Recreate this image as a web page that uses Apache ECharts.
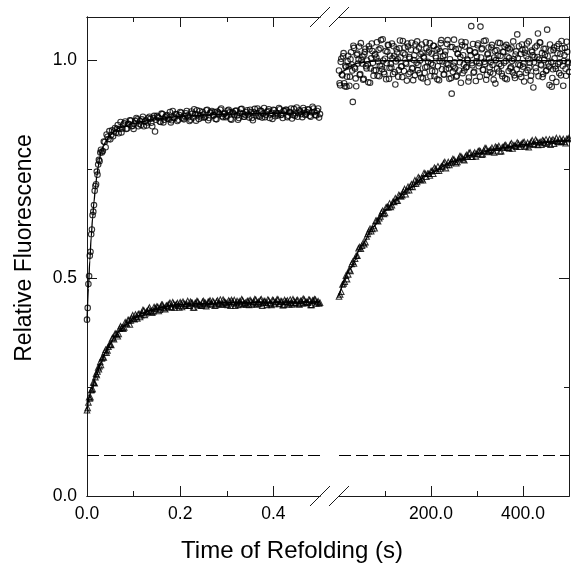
<!DOCTYPE html>
<html><head><meta charset="utf-8">
<script src="https://cdn.jsdelivr.net/npm/echarts@6/dist/echarts.min.js"></script>
<style>html,body{margin:0;padding:0;background:#fff}#c{width:571px;height:565px}</style>
</head><body><div id="c"></div>
<script>
const FONT = '"Liberation Sans", Arial, Helvetica, sans-serif';

// ---- Left panel: fast phase (time in s) ----
const leftTime = [
0,0.0015,0.003,0.0045,0.006,0.0075,0.009,0.0105,0.012,0.0135,0.015,0.0165,0.018,0.0195,0.021,0.0225,0.024,0.0255,0.027,0.0285,
0.030,0.034,0.038,0.042,0.046,0.050,0.054,0.058,0.062,0.066,0.070,0.074,0.078,0.082,0.086,0.090,0.094,0.098,
0.102,0.106,0.110,0.114,0.118,0.122,0.126,0.130,0.134,0.138,0.142,0.146,0.150,
0.154,0.158,0.162,0.166,0.170,0.174,0.178,0.182,0.186,0.190,0.194,0.198,
0.202,0.206,0.210,0.214,0.218,0.222,0.226,0.230,0.234,0.238,0.242,0.246,0.250,0.254,0.258,0.262,0.266,0.270,0.274,0.278,0.282,0.286,0.290,0.294,0.298,
0.302,0.306,0.310,0.314,0.318,0.322,0.326,0.330,0.334,0.338,0.342,0.346,0.350,0.354,0.358,0.362,0.366,0.370,0.374,0.378,0.382,0.386,0.390,0.394,0.398,
0.402,0.406,0.410,0.414,0.418,0.422,0.426,0.430,0.434,0.438,0.442,0.446,0.450,0.454,0.458,0.462,0.466,0.470,0.474,0.478,0.482,0.486,0.490,0.494,0.498];
const leftCircles = [
.405,.432,.487,.505,.552,.561,.601,.612,.645,.653,.668,.701,.712,.716,.745,.738,.761,.772,.769,.789,
.795,.792,.813,.830,.820,.819,.840,.837,.834,.852,.843,.835,.853,.860,.844,.854,.862,.850,
.855,.868,.849,.861,.865,.849,.862,.858,.871,.857,.868,.837,.873,
.868,.859,.877,.864,.873,.867,.882,.863,.870,.877,.861,.875,
.880,.867,.872,.884,.870,.864,.878,.888,.862,.876,.884,.869,.876,.871,.887,.868,.881,.874,.882,.865,.880,.887,.872,.877,.870,
.885,.881,.864,.879,.884,.874,.868,.888,.878,.871,.882,.876,.887,.868,.881,.874,.890,.871,.884,.878,.870,.882,.888,.876,.866,
.886,.880,.874,.888,.876,.884,.887,.870,.881,.890,.875,.873,.892,.879,.883,.870,.886,.877,.888,.873,.881,.890,.875,.884,.869];
const leftTriangles = [
.197,.202,.215,.227,.224,.227,.243,.244,.246,.261,.260,.259,.273,.281,.278,.286,.295,.291,.298,.308,
.301,.319,.330,.329,.343,.348,.362,.360,.373,.367,.384,.386,.384,.399,.395,.404,.403,.415,
.406,.412,.418,.411,.421,.426,.420,.423,.433,.425,.424,.432,.435,
.425,.434,.439,.431,.437,.434,.444,.433,.441,.438,.443,.433,
.442,.446,.437,.441,.437,.446,.443,.433,.443,.446,.440,.437,.448,.443,.440,.446,.442,.448,.437,.446,.442,.451,.440,.447,.444,
.439,.446,.450,.443,.437,.448,.445,.441,.449,.442,.440,.447,.450,.440,.446,.451,.443,.441,.452,.444,.447,.439,.449,.443,.450,
.441,.446,.451,.442,.447,.439,.446,.449,.440,.444,.452,.443,.449,.441,.448,.443,.451,.446,.444,.450,.439,.448,.451,.445,.442];
// interleaved second set of readings in the left panel
const leftTime2 = [
0.032,0.036,0.040,0.044,0.048,0.052,0.056,0.060,0.064,0.068,0.072,0.076,0.080,0.084,0.088,0.092,0.096,
0.100,0.104,0.108,0.112,0.116,0.120,0.124,0.128,0.132,0.136,0.140,0.144,0.148,
0.152,0.156,0.160,0.164,0.168,0.172,0.176,0.180,0.184,0.188,0.192,0.196,
0.200,0.204,0.208,0.212,0.216,0.220,0.224,0.228,0.232,0.236,0.240,0.244,0.248,0.252,0.256,0.260,0.264,0.268,0.272,0.276,0.280,0.284,0.288,0.292,0.296,
0.300,0.304,0.308,0.312,0.316,0.320,0.324,0.328,0.332,0.336,0.340,0.344,0.348,0.352,0.356,0.360,0.364,0.368,0.372,0.376,0.380,0.384,0.388,0.392,0.396,
0.400,0.404,0.408,0.412,0.416,0.420,0.424,0.428,0.432,0.436,0.440,0.444,0.448,0.452,0.456,0.460,0.464,0.468,0.472,0.476,0.480,0.484,0.488,0.492,0.496,0.500];
const leftCircles2 = [
.789,.814,.801,.825,.838,.829,.826,.845,.843,.833,.859,.844,.856,.843,.855,.863,.849,
.843,.861,.865,.855,.852,.871,.860,.851,.868,.866,.849,.873,.864,
.870,.860,.878,.858,.870,.875,.865,.858,.884,.868,.876,.864,
.882,.869,.865,.879,.874,.861,.883,.869,.877,.886,.866,.874,.882,.869,.886,.863,.880,.884,.874,.866,.883,.877,.890,.870,.879,
.873,.887,.866,.882,.876,.885,.864,.880,.889,.871,.875,.886,.869,.882,.863,.889,.879,.873,.885,.869,.891,.875,.884,.868,.880,.887,
.872,.878,.891,.875,.868,.884,.887,.873,.882,.867,.889,.879,.871,.886,.877,.891,.875,.881,.887,.871,.894,.882,.874,.890,.877];
const leftTriangles2 = [
.316,.318,.336,.334,.348,.347,.364,.372,.371,.372,.390,.387,.387,.397,.404,.394,.409,
.407,.417,.408,.418,.415,.427,.416,.424,.429,.424,.421,.434,.430,
.434,.428,.439,.433,.429,.438,.441,.434,.445,.433,.440,.437,
.445,.434,.442,.440,.448,.437,.444,.433,.443,.448,.440,.437,.446,.443,.436,.446,.449,.440,.445,.438,.449,.443,.440,.451,.445,
.441,.449,.437,.446,.450,.443,.439,.447,.452,.440,.444,.448,.439,.447,.443,.452,.440,.446,.450,.437,.448,.444,.451,.442,.439,.449,
.445,.452,.441,.447,.438,.450,.446,.443,.451,.440,.448,.444,.450,.440,.448,.453,.443,.445,.451,.439,.449,.452,.442,.447,.444];
const leftCircleFitT = [0,.003,.006,.009,.012,.015,.018,.021,.024,.027,.03,.035,.04,.05,.06,.07,.08,.1,.12,.15,.2,.25,.3,.4,.5];
const leftCircleFit  = [.40,.476,.54,.594,.638,.676,.707,.734,.756,.775,.79,.803,.814,.829,.839,.845,.849,.856,.86,.866,.872,.875,.877,.879,.88];
const leftTriFitT = [0,.01,.02,.03,.04,.05,.06,.07,.08,.1,.12,.14,.16,.2,.25,.3,.4,.5];
const leftTriFit  = [.2,.242,.278,.306,.331,.35,.367,.38,.391,.408,.42,.428,.434,.44,.442,.444,.445,.446];

// ---- Right panel: slow phase (time in s) ----
const rightCircleTime = [
0,2.5,5,7.5,10,12.5,15,17.5,20,22.5,25,27.5,30,32.5,35,37.5,40,42.5,45,47.5,
50,52.5,55,57.5,60,62.5,65,67.5,70,72.5,75,77.5,80,82.5,85,87.5,90,92.5,95,97.5,
100,102.5,105,107.5,110,112.5,115,117.5,120,122.5,125,127.5,130,132.5,135,137.5,140,142.5,145,147.5,
150,152.5,155,157.5,160,162.5,165,167.5,170,172.5,175,177.5,180,182.5,185,187.5,190,192.5,195,197.5,
200,202.5,205,207.5,210,212.5,215,217.5,220,222.5,225,227.5,230,232.5,235,237.5,240,242.5,245,247.5,
250,252.5,255,257.5,260,262.5,265,267.5,270,272.5,275,277.5,280,282.5,285,287.5,290,292.5,295,297.5,
300,302.5,305,307.5,310,312.5,315,317.5,320,322.5,325,327.5,330,332.5,335,337.5,340,342.5,345,347.5,
350,352.5,355,357.5,360,362.5,365,367.5,370,372.5,375,377.5,380,382.5,385,387.5,390,392.5,395,397.5,
400,402.5,405,407.5,410,412.5,415,417.5,420,422.5,425,427.5,430,432.5,435,437.5,440,442.5,445,447.5,
450,452.5,455,457.5,460,462.5,465,467.5,470,472.5,475,477.5,480,482.5,485,487.5,490,492.5,495,497.5,
500];
const rightCircles = [
.977,.943,1.004,.966,1.017,.941,.985,.963,1.011,.942,1.003,.991,.905,1.029,.981,.941,1.016,1.003,.967,1.040,
.993,.956,1.014,1.027,.982,.991,1.033,.949,1.005,1.022,.965,1.012,.978,1.042,.998,.964,1.028,.987,1.049,.973,
1.004,.957,1.020,1.035,.983,.992,1.039,.969,1.011,.945,1.026,1.003,.978,1.046,.986,.962,1.017,1.030,.995,.954,
1.032,1.008,.973,1.041,.981,1.001,.966,1.023,1.044,.990,.971,1.015,1.037,.959,1.006,.984,1.028,.950,1.019,1.040,
.993,.976,1.034,.964,1.010,1.025,.987,.955,1.021,1.047,.998,.968,1.013,.980,1.038,.991,.958,1.031,.924,.974,
1.048,.982,.963,1.016,1.027,.996,.949,1.035,1.012,.977,1.042,.985,1.000,.961,1.022,1.079,.989,.972,1.018,.953,
1.009,1.039,.994,1.078,1.026,.979,1.045,.992,.956,1.014,1.030,.984,.997,1.036,.970,1.007,.947,1.024,1.011,.975,
1.040,.988,.964,1.019,1.032,.999,.957,1.029,1.006,.982,1.030,.973,1.003,.960,1.021,1.060,.991,.969,1.015,1.037,
.986,.952,1.025,1.010,.978,1.044,.995,.965,1.020,.938,1.008,.983,1.034,1.062,1.002,1.041,.989,.962,1.027,1.013,
.976,1.071,.993,.944,1.023,.940,.980,1.030,.987,.951,1.017,1.038,.996,.966,1.028,.942,1.012,.981,1.043,.997,
.974];
// interleaved second set of readings in the right panel
const rightCircleTime2 = [
1.25,3.75,6.25,8.75,11.25,13.75,16.25,18.75,21.25,23.75,26.25,28.75,31.25,33.75,36.25,38.75,41.25,43.75,46.25,48.75,
51.25,53.75,56.25,58.75,61.25,63.75,66.25,68.75,71.25,73.75,76.25,78.75,81.25,83.75,86.25,88.75,91.25,93.75,96.25,98.75,
101.25,103.75,106.25,108.75,111.25,113.75,116.25,118.75,121.25,123.75,126.25,128.75,131.25,133.75,136.25,138.75,141.25,143.75,146.25,148.75,
151.25,153.75,156.25,158.75,161.25,163.75,166.25,168.75,171.25,173.75,176.25,178.75,181.25,183.75,186.25,188.75,191.25,193.75,196.25,198.75,
201.25,203.75,206.25,208.75,211.25,213.75,216.25,218.75,221.25,223.75,226.25,228.75,231.25,233.75,236.25,238.75,241.25,243.75,246.25,248.75,
251.25,253.75,256.25,258.75,261.25,263.75,266.25,268.75,271.25,273.75,276.25,278.75,281.25,283.75,286.25,288.75,291.25,293.75,296.25,298.75,
301.25,303.75,306.25,308.75,311.25,313.75,316.25,318.75,321.25,323.75,326.25,328.75,331.25,333.75,336.25,338.75,341.25,343.75,346.25,348.75,
351.25,353.75,356.25,358.75,361.25,363.75,366.25,368.75,371.25,373.75,376.25,378.75,381.25,383.75,386.25,388.75,391.25,393.75,396.25,398.75,
401.25,403.75,406.25,408.75,411.25,413.75,416.25,418.75,421.25,423.75,426.25,428.75,431.25,433.75,436.25,438.75,441.25,443.75,446.25,448.75,
451.25,453.75,456.25,458.75,461.25,463.75,466.25,468.75,471.25,473.75,476.25,478.75,481.25,483.75,486.25,488.75,491.25,493.75,496.25,498.75];
const rightCircles2 = [
.948,.997,.968,1.010,.948,.988,.940,.998,.987,.963,1.019,.977,1.034,.984,.959,1.013,.993,1.032,.969,1.001,
1.009,.958,1.020,.987,1.000,.950,1.026,.982,1.039,.995,.977,1.015,1.007,.965,1.025,.988,1.047,.980,1.000,.969,
1.022,.994,1.036,.958,1.011,.984,1.005,1.033,.973,.998,1.019,.963,1.028,1.007,.987,1.045,.976,1.014,.992,1.039,
.969,1.004,1.025,.983,.955,1.012,1.037,.995,.978,1.030,1.000,.961,1.018,1.009,.972,1.042,.986,.997,1.023,.964,
1.016,.990,1.034,.975,1.006,.957,1.027,.999,1.040,.980,1.010,.968,1.021,.993,1.047,.982,1.003,.960,1.031,.988,
.996,1.026,.965,1.015,.977,1.008,1.043,.971,.991,1.032,.984,1.002,.952,1.024,1.012,.994,1.038,.974,1.019,.998,
1.035,.987,.963,1.007,1.028,.979,.997,1.046,.967,1.016,1.005,.973,1.030,.990,.956,1.022,1.001,.982,1.041,.992,
1.011,.970,1.020,.995,.959,1.036,1.009,.976,1.026,.985,.999,1.044,.966,1.014,.980,1.006,1.033,.989,.962,1.025,
.993,1.018,.972,1.039,1.003,.984,.954,1.023,1.012,.996,1.030,.975,1.008,.964,1.042,.991,1.017,.969,1.002,1.027,
.978,1.010,.986,1.037,.997,.960,1.024,1.005,.981,1.033,.992,.971,1.015,1.045,.988,.999,1.029,.965,1.020,.994];
const rightTriangleTime = [
0,5,10,15,20,25,30,35,40,45,50,55,60,65,70,75,80,85,90,95,
100,105,110,115,120,125,130,135,140,145,150,155,160,165,170,175,180,185,190,195,
200,205,210,215,220,225,230,235,240,245,250,255,260,265,270,275,280,285,290,295,
300,305,310,315,320,325,330,335,340,345,350,355,360,365,370,375,380,385,390,395,
400,405,410,415,420,425,430,435,440,445,450,455,460,465,470,475,480,485,490,495,500];
const rightTriangles = [
.458,.469,.488,.506,.509,.517,.538,.545,.552,.572,.575,.578,.596,.608,.608,.620,.632,.631,.642,.655,
.650,.664,.672,.668,.675,.679,.691,.688,.699,.693,.710,.711,.710,.725,.721,.729,.729,.742,.733,.740,
.746,.740,.751,.757,.752,.757,.767,.760,.760,.769,.773,.764,.774,.780,.773,.780,.779,.789,.779,.789,
.786,.793,.784,.793,.798,.791,.795,.792,.802,.800,.791,.801,.805,.800,.798,.810,.805,.802,.809,.806,
.812,.802,.811,.808,.817,.807,.814,.812,.807,.815,.819,.813,.807,.819,.816,.813,.821,.814,.813,.820,.822];
const rightTriangleTime2 = [
2.5,7.5,12.5,17.5,22.5,27.5,32.5,37.5,42.5,47.5,52.5,57.5,62.5,67.5,72.5,77.5,82.5,87.5,92.5,97.5,
102.5,107.5,112.5,117.5,122.5,127.5,132.5,137.5,142.5,147.5,152.5,157.5,162.5,167.5,172.5,177.5,182.5,187.5,192.5,197.5,
202.5,207.5,212.5,217.5,222.5,227.5,232.5,237.5,242.5,247.5,252.5,257.5,262.5,267.5,272.5,277.5,282.5,287.5,292.5,297.5,
302.5,307.5,312.5,317.5,322.5,327.5,332.5,337.5,342.5,347.5,352.5,357.5,362.5,367.5,372.5,377.5,382.5,387.5,392.5,397.5,
402.5,407.5,412.5,417.5,422.5,427.5,432.5,437.5,442.5,447.5,452.5,457.5,462.5,467.5,472.5,477.5,482.5,487.5,492.5,497.5];
const rightTriangles2 = [
.463,.486,.492,.498,.520,.533,.534,.552,.569,.568,.581,.583,.602,.614,.613,.615,.633,.638,.651,.648,
.663,.663,.664,.676,.684,.678,.690,.691,.705,.702,.702,.716,.717,.717,.732,.726,.725,.740,.740,.736,
.747,.754,.747,.747,.757,.764,.753,.767,.765,.774,.768,.767,.780,.777,.771,.783,.788,.779,.785,.780,
.792,.791,.785,.799,.790,.793,.800,.789,.800,.804,.792,.801,.806,.800,.807,.798,.805,.812,.802,.809,
.813,.805,.801,.813,.809,.818,.806,.813,.817,.811,.809,.819,.816,.809,.822,.813,.815,.820,.810,.820];
const rightCircleFitT = [0,10,20,30,40,60,80,100,200,300,400,500];
const rightCircleFit  = [.965,.976,.984,.99,.994,.997,.999,1,1,1,1,1];
const rightTriFitT = [0,25,50,75,100,125,150,200,250,300,350,400,450,500];
const rightTriFit  = [.46,.523,.576,.619,.655,.681,.706,.743,.769,.787,.799,.807,.813,.817];

const baselineLevel = 0.093;

// ---- Axes ----
const leftRange = [0, 0.5];
const rightRange = [0, 500];
const yRange = [0, 1.1];
const leftMajor = [0.2, 0.4], leftMinor = [0.1, 0.3], leftLabels = [0, 0.2, 0.4];
const rightMajor = [200, 400], rightMinor = [100, 300], rightLabels = [200, 400];
const yMajor = [0, 0.5, 1.0], yMinor = [0.25, 0.75], yLabels = [0, 0.5, 1.0];
const xTitle = 'Time of Refolding (s)';
const yTitle = 'Relative Fluorescence';

const pairs = (xs, ys) => xs.map((x, i) => [x, ys[i]]);
const lineCol = '#1a1a1a';
const fmt1 = v => Number(v).toFixed(1);

function axis(kind, grid, pos, range, ticks, len, labels) {
  return {
    type: 'value', gridIndex: grid, position: pos, min: range[0], max: range[1],
    axisLine: { show: true, onZero: false, lineStyle: { color: lineCol, width: 1 } },
    axisTick: { show: true, inside: true, length: len, customValues: ticks, lineStyle: { color: lineCol, width: 1 } },
    axisLabel: labels ? { show: true, customValues: labels, formatter: fmt1, margin: kind === 'x' ? 9 : 10,
      color: '#000', fontFamily: FONT, fontSize: 17.5 } : { show: false },
    splitLine: { show: false }
  };
}

const chart = echarts.init(document.getElementById('c'), null, { renderer: 'canvas' });

const scatterStyle = { color: 'transparent', borderColor: '#000', borderWidth: 1.1 };
function scat(xi, yi, data, sym) {
  return { type: 'scatter', xAxisIndex: xi, yAxisIndex: yi, data, symbol: sym, symbolSize: 5.5,
    itemStyle: scatterStyle, z: 2, silent: true };
}
function fit(xi, yi, data) {
  return { type: 'line', xAxisIndex: xi, yAxisIndex: yi, data, showSymbol: false, symbol: 'none',
    smooth: 0.3, smoothMonotone: 'x', lineStyle: { color: '#000', width: 1.3 }, z: 3, silent: true };
}
function dashed(xi, yi, range) {
  return { type: 'line', xAxisIndex: xi, yAxisIndex: yi,
    data: [[range[0], baselineLevel], [range[1], baselineLevel]], showSymbol: false, symbol: 'none',
    lineStyle: { color: '#000', width: 1.2, type: [12, 5] }, z: 3, silent: true };
}

chart.setOption({
  animation: false,
  backgroundColor: '#fff',
  grid: [
    { left: 87, top: 17, width: 233, height: 479 },
    { left: 339, top: 17, width: 230, height: 479 }
  ],
  xAxis: [
    axis('x', 0, 'bottom', leftRange, leftMajor, 10, leftLabels),
    axis('x', 0, 'bottom', leftRange, leftMinor, 5, null),
    axis('x', 0, 'top', leftRange, leftMajor, 10, null),
    axis('x', 0, 'top', leftRange, leftMinor, 5, null),
    axis('x', 1, 'bottom', rightRange, rightMajor, 10, rightLabels),
    axis('x', 1, 'bottom', rightRange, rightMinor, 5, null),
    axis('x', 1, 'top', rightRange, rightMajor, 10, null),
    axis('x', 1, 'top', rightRange, rightMinor, 5, null)
  ],
  yAxis: [
    axis('y', 0, 'left', yRange, yMajor, 10, yLabels),
    axis('y', 0, 'left', yRange, yMinor, 5, null),
    axis('y', 1, 'right', yRange, yMajor, 10, null),
    axis('y', 1, 'right', yRange, yMinor, 5, null)
  ],
  series: [
    scat(0, 0, pairs(leftTime, leftCircles).concat(pairs(leftTime2, leftCircles2)), 'circle'),
    scat(0, 0, pairs(leftTime, leftTriangles).concat(pairs(leftTime2, leftTriangles2)), 'triangle'),
    fit(0, 0, pairs(leftCircleFitT, leftCircleFit)),
    fit(0, 0, pairs(leftTriFitT, leftTriFit)),
    dashed(0, 0, leftRange),
    scat(4, 2, pairs(rightCircleTime, rightCircles).concat(pairs(rightCircleTime2, rightCircles2)), 'circle'),
    scat(4, 2, pairs(rightTriangleTime, rightTriangles).concat(pairs(rightTriangleTime2, rightTriangles2)), 'triangle'),
    fit(4, 2, pairs(rightCircleFitT, rightCircleFit)),
    fit(4, 2, pairs(rightTriFitT, rightTriFit)),
    dashed(4, 2, rightRange)
  ]
});

// axis break marks and titles
const xL = chart.convertToPixel({ xAxisIndex: 0 }, leftRange[1]);
const xR = chart.convertToPixel({ xAxisIndex: 4 }, rightRange[0]);
const yT = chart.convertToPixel({ yAxisIndex: 0 }, yRange[1]);
const yB = chart.convertToPixel({ yAxisIndex: 0 }, yRange[0]);
const g = [];
[xL, xR].forEach(cx => [yT, yB].forEach(cy => {
  g.push({ type: 'line', shape: { x1: cx - 10, y1: cy + 10, x2: cx + 10, y2: cy - 10 },
    style: { stroke: lineCol, lineWidth: 1 }, z: 10 });
}));
g.push({ type: 'text', x: 292, y: 551, z: 10,
  style: { text: xTitle, fill: '#000', fontFamily: FONT, fontSize: 24, align: 'center', verticalAlign: 'middle' } });
g.push({ type: 'text', x: 25, y: 248, rotation: Math.PI / 2, z: 10,
  style: { text: yTitle, fill: '#000', fontFamily: FONT, fontSize: 23, align: 'center', verticalAlign: 'middle' } });
chart.setOption({ graphic: g });
</script>
</body></html>
